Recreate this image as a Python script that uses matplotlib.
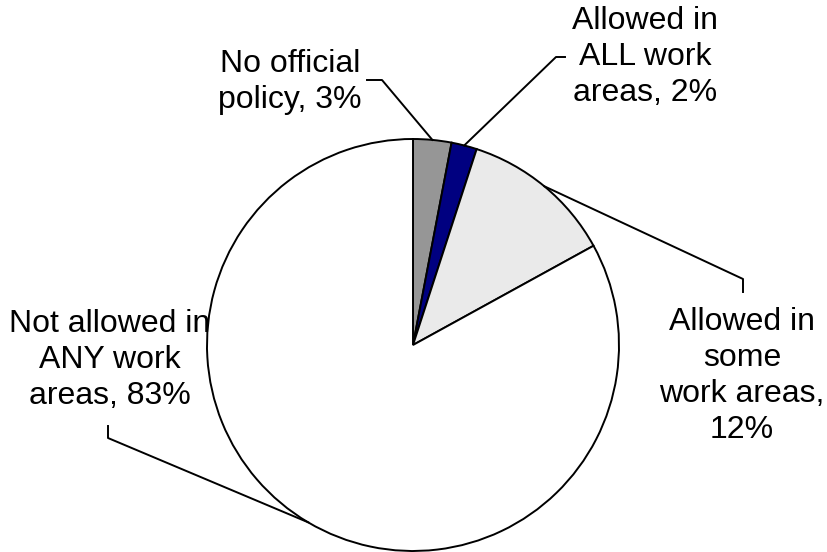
import numpy as np
import matplotlib
matplotlib.use("Agg")
import matplotlib.pyplot as plt

plt.rcParams['font.family'] = ['Liberation Sans', 'DejaVu Sans']

# smoking policy shares, clockwise from 12 o'clock
labels = ['No official\npolicy, 3%',
          'Allowed in\nALL work\nareas, 2%',
          'Allowed in\nsome\nwork areas,\n12%',
          'Not allowed in\nANY work\nareas, 83%']
shares = [3, 2, 12, 83]
cols = ['#969696', '#000080', '#EAEAEA', '#FFFFFF']

# label layout (pixel coords, y down): text centre, elbow, end of leader
text_pos = [(290, 82), (645, 57), (742, 376), (110, 360)]
elbow = [(382, 80), (556, 57), (743, 279), (108, 438)]
tail = [(367, 80), (565, 57), (743, 292), (108, 426)]

W, H = 828, 552
cx, cy, R = 413, 207, 206

fig = plt.figure(figsize=(8.28, 5.52), dpi=100)
ax = fig.add_axes([0, 0, 1, 1])
ax.axis('off')

wedges, _ = ax.pie(shares, colors=cols, startangle=90, counterclock=False,
                   radius=R, center=(cx, cy),
                   wedgeprops=dict(edgecolor='black', linewidth=1.4))
ax.set_xlim(0, W)
ax.set_ylim(0, H)
ax.set_aspect('equal')

for w, lab, tp, el, tl in zip(wedges, labels, text_pos, elbow, tail):
    mid = np.deg2rad((w.theta1 + w.theta2) / 2)
    px = cx + R * np.cos(mid)
    py = cy + R * np.sin(mid)
    ax.plot([px, el[0], tl[0]], [py, H - el[1], H - tl[1]],
            color='black', lw=1.4, zorder=3)
    ax.text(tp[0], H - tp[1], lab, ha='center', va='center',
            fontsize=23, linespacing=1.27)

fig.savefig('out.png', dpi=100)
